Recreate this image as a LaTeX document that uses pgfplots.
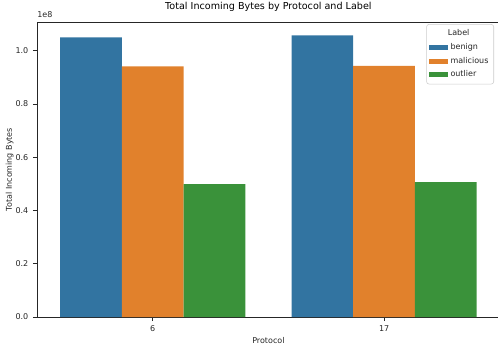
\documentclass[border=0pt]{standalone}
\usepackage{pgfplots}
\pgfplotsset{compat=1.18}
\usepackage{fontspec}
\setmainfont{DejaVu Sans}
\definecolor{cb}{HTML}{3274A1}
\definecolor{co}{HTML}{E1812C}
\definecolor{cg}{HTML}{3A923A}
\definecolor{tx}{HTML}{262626}
\definecolor{lg}{HTML}{CCCCCC}
\begin{document}
\begin{tikzpicture}
\useasboundingbox (-27.75pt,-24.75pt) rectangle (345.75pt,237.75pt);
\begin{axis}[
  at={(0,0)}, anchor=south west,
  scale only axis, width=347.1pt, height=221.25pt,
  xmin=-0.5, xmax=1.5, ymin=0, ymax=1.108,
  xtick={0,1}, xticklabels={6,17},
  ytick={0,0.2,0.4,0.6,0.8,1.0},
  yticklabel style={/pgf/number format/.cd, fixed, fixed zerofill, precision=1},
  /pgf/number format/assume math mode=true,
  tick label style={font=\fontsize{6}{7}\selectfont, color=tx},
  tick align=outside, major tick length=3pt,
  tick style={color=tx, line width=0.5pt},
  xtick pos=bottom, ytick pos=left,
  axis line style={color=tx, line width=0.6pt},
  title={Total Incoming Bytes by Protocol and Label},
  title style={font=\fontsize{7.2}{8}\selectfont, color=black, at={(axis description cs:0.5,1)}, anchor=base, yshift=3.6pt},
  xlabel={Protocol}, ylabel={Total Incoming Bytes},
  xlabel style={font=\fontsize{6}{7}\selectfont, color=tx, at={(axis description cs:0.5,0)}, anchor=base, yshift=-19.5pt},
  ylabel style={font=\fontsize{6}{7}\selectfont, color=tx, at={(axis description cs:-0.0593,0.5)}, anchor=center},
  ybar, bar width=0.2667,
  legend image code/.code={\fill[#1, sharp corners] (0pt,-1.9pt) rectangle (14pt,1.9pt);},
  legend cell align=left,
  legend style={at={(axis description cs:0.9875,0.993)}, anchor=north east,
    draw=lg, rounded corners=2pt, fill=white, font=\fontsize{6}{7}\selectfont, text=tx,
    row sep=0.2pt, inner sep=2pt},
  clip=false,
]
\addlegendimage{empty legend}
\addlegendentry{\hspace*{-2pt}Label}
\addplot[fill=cb, draw=none, bar shift=-0.2667] coordinates {(0,1.050) (1,1.058)};
\addlegendentry{benign}
\addplot[fill=co, draw=none, bar shift=0] coordinates {(0,0.941) (1,0.943)};
\addlegendentry{malicious}
\addplot[fill=cg, draw=none, bar shift=0.2667] coordinates {(0,0.499) (1,0.507)};
\addlegendentry{outlier}
\node[anchor=base west, font=\fontsize{6}{7}\selectfont, text=tx, inner sep=0pt] at (axis description cs:0,1) [yshift=3.5pt] {1e8};
\end{axis}
\end{tikzpicture}
\end{document}
